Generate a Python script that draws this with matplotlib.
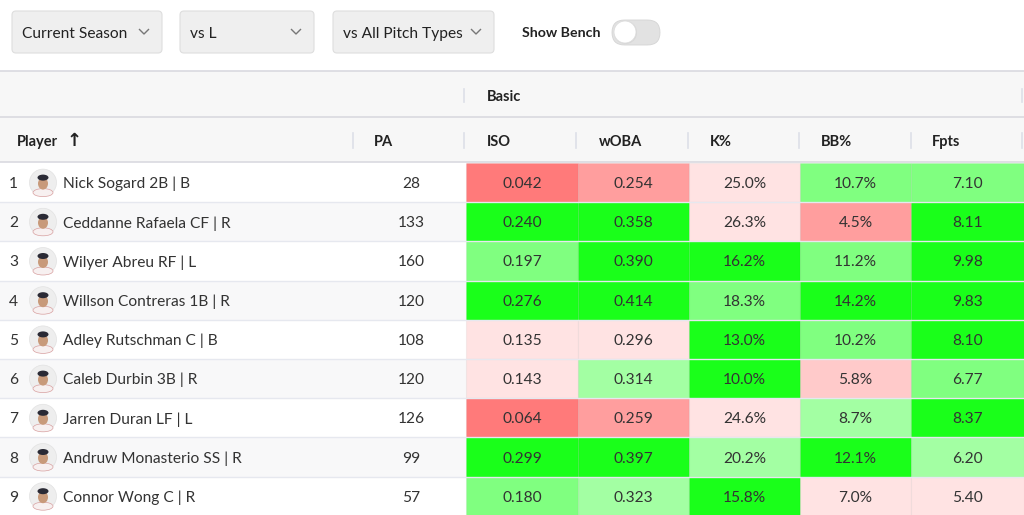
import numpy as np
import matplotlib
matplotlib.use("Agg")
import matplotlib.pyplot as plt
from matplotlib.patches import Rectangle, FancyBboxPatch, Circle, Ellipse

plt.rcParams['font.family'] = ['Lato', 'DejaVu Sans']

# ---- data ----
filters = ["Current Season", "vs L", "vs All Pitch Types"]
players = ["Nick Sogard 2B | B", "Ceddanne Rafaela CF | R", "Wilyer Abreu RF | L",
           "Willson Contreras 1B | R", "Adley Rutschman C | B", "Caleb Durbin 3B | R",
           "Jarren Duran LF | L", "Andruw Monasterio SS | R", "Connor Wong C | R"]
pa = [28, 133, 160, 120, 108, 120, 126, 99, 57]
iso = [0.042, 0.240, 0.197, 0.276, 0.135, 0.143, 0.064, 0.299, 0.180]
woba = [0.254, 0.358, 0.390, 0.414, 0.296, 0.314, 0.259, 0.397, 0.323]
k_pct = [25.0, 26.3, 16.2, 18.3, 13.0, 10.0, 24.6, 20.2, 15.8]
bb_pct = [10.7, 4.5, 11.2, 14.2, 10.2, 5.8, 8.7, 12.1, 7.0]
fpts = [7.10, 8.11, 9.98, 9.83, 8.10, 6.77, 8.37, 6.20, 5.40]

# rating tier shown by the cell colour
iso_tier = ["R4", "G3", "G2", "G3", "R1", "R1", "R4", "G3", "G2"]
woba_tier = ["R3", "G3", "G3", "G3", "R1", "G1", "R3", "G3", "G1"]
k_tier = ["R1", "R1", "G3", "G2", "G3", "G3", "R1", "G1", "G3"]
bb_tier = ["G2", "R3", "G2", "G3", "G2", "R2", "G1", "G3", "R1"]
fpts_tier = ["G2", "G3", "G3", "G3", "G3", "G2", "G3", "G1", "R1"]

tier_colors = {"G3": "#1aff1a", "G2": "#80ff80", "G1": "#a3ffa3",
               "R1": "#ffe3e3", "R2": "#ffcaca", "R3": "#ff9e9e", "R4": "#ff7a7a"}

stat_cols = [
    ("ISO", [f"{v:.3f}" for v in iso], iso_tier),
    ("wOBA", [f"{v:.3f}" for v in woba], woba_tier),
    ("K%", [f"{v:.1f}%" for v in k_pct], k_tier),
    ("BB%", [f"{v:.1f}%" for v in bb_pct], bb_tier),
    ("Fpts", [f"{v:.2f}" for v in fpts], fpts_tier),
]

W, H = 1024, 515
fig = plt.figure(figsize=(W / 100, H / 100), dpi=100)
ax = fig.add_axes([0, 0, 1, 1])
ax.set_xlim(0, W)
ax.set_ylim(H, 0)
ax.axis('off')

txt = '#333333'
line_c = '#d9d9e0'
body_fs = 11.2

# ---- filter bar ----
boxes = [(12, 150), (180, 134), (333, 161)]
for (bx, bw), label in zip(boxes, filters):
    ax.add_patch(FancyBboxPatch((bx, 11), bw, 42, boxstyle="round,pad=0,rounding_size=4",
                                fc='#efefef', ec='#dedede', lw=0.8))
    ax.text(bx + 10, 34, label, fontsize=11.2, color='#222222', va='center', ha='left')
    cx = bx + bw - 18
    ax.plot([cx - 4.5, cx, cx + 4.5], [29.5, 34, 29.5], color='#777777', lw=1.0)

ax.text(522, 33, "Show Bench", fontsize=10.2, fontweight='bold', color='#222222',
        va='center', ha='left')
ax.add_patch(FancyBboxPatch((612, 20), 48, 25, boxstyle="round,pad=0,rounding_size=12.5",
                            fc='#e2e2e2', ec='#d4d4d4', lw=0.6))
ax.add_patch(Circle((625.5, 32.5), 11.5, fc='#cccccc', ec='none', alpha=0.5))
ax.add_patch(Circle((625, 32), 11, fc='white', ec='#dddddd', lw=0.6))

# ---- header ----
top1, top2, top3 = 71, 117, 162
ax.add_patch(Rectangle((0, top1), W, top3 - top1, fc='#f7f7f7', ec='none'))
for yy in (top1, top2, top3):
    ax.axhline(yy, color=line_c, lw=1.2)

col_edges = [466, 578, 689, 800, 911, 1024]
sep_x = [353, 464, 576, 688, 799, 911, 1022]
for sx in sep_x:
    ax.plot([sx, sx], [133, 148], color='#dde0e8', lw=1.2)
ax.plot([464, 464], [89, 102], color='#dde0e8', lw=1.2)
ax.plot([1022, 1022], [89, 102], color='#dde0e8', lw=1.2)

hdr = dict(fontsize=10.5, fontweight='bold', color='#222222', va='center', ha='left')
ax.text(487, 97, "Basic", **hdr)
ax.text(17, 142, "Player", **hdr)
ax.text(67, 141, "\u2191", fontsize=13, fontweight='bold', color='#222222',
        va='center', ha='left', family=['DejaVu Sans'])
ax.text(374, 142, "PA", **hdr)
for (name, _, _), left in zip(stat_cols, col_edges[:-1]):
    ax.text(left + 21, 142, name, **hdr)

# ---- rows ----
row_h = 39.2
for i, player in enumerate(players):
    y0 = top3 + 1 + i * row_h
    yc = y0 + row_h / 2
    ty = yc + 1.5
    ax.add_patch(Rectangle((0, y0), W, row_h, fc='white' if i % 2 == 0 else '#f8f8f9', ec='none'))
    ax.axhline(y0 + row_h, color='#e6e8ef', lw=1.0)

    ax.text(9, ty, str(i + 1), fontsize=body_fs, color=txt, va='center', ha='left')
    # avatar
    ax.add_patch(Circle((43, yc), 13.5, fc='#eeeeee', ec='#e2e2e2', lw=0.5))
    ax.add_patch(Ellipse((43, yc + 10), 20, 8, fc='#f7f0f0', ec='#d8a0a0', lw=0.5))
    ax.add_patch(Ellipse((43, yc + 1), 10, 12, fc='#c89a7a', ec='none'))
    ax.add_patch(Ellipse((43, yc - 5), 11, 6, fc='#2a2a35', ec='none'))
    ax.text(63, ty, player, fontsize=body_fs, color=txt, va='center', ha='left')
    ax.text(411, ty, str(pa[i]), fontsize=body_fs, color=txt, va='center', ha='center')

    for j, (_, vals, tiers) in enumerate(stat_cols):
        x0, x1 = col_edges[j], col_edges[j + 1]
        ax.add_patch(Rectangle((x0, y0), x1 - x0, row_h, fc=tier_colors[tiers[i]],
                               ec=(0, 0, 0, 0.04), lw=0.8))
        ax.text((x0 + x1) / 2, ty, vals[i], fontsize=body_fs, color=txt, va='center', ha='center')

fig.savefig("out.png", dpi=100)
